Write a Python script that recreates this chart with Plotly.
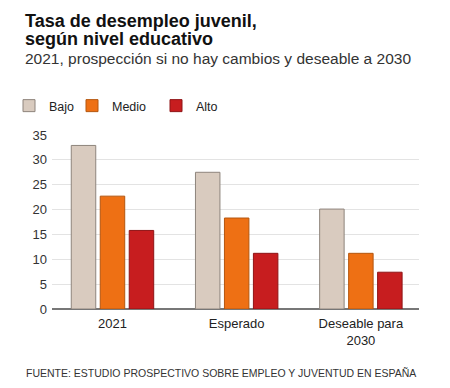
import plotly.graph_objects as go

# ---- data ----
categories = ["2021", "Esperado", "Deseable para<br>2030"]
series_names = ["Bajo", "Medio", "Alto"]
bajo = [32.9, 27.5, 20.1]
medio = [22.7, 18.3, 11.2]
alto = [15.8, 11.2, 7.4]
y_ticks = [0, 5, 10, 15, 20, 25, 30, 35]

title_line1 = "Tasa de desempleo juvenil,"
title_line2 = "según nivel educativo"
subtitle = "2021, prospección si no hay cambios y deseable a 2030"
source = "FUENTE: ESTUDIO PROSPECTIVO SOBRE EMPLEO Y JUVENTUD EN ESPAÑA"

# ---- layout geometry ----
W, H = 450, 388
ML, MR, MT, MB = 52, 31, 135, 79
PW, PH = W - ML - MR, H - MT - MB

def px2x(px):
    return (px - ML) / PW

def px2y(py):
    return (H - MB - py) / PH

fills = ["#d9cbbf", "#ee7014", "#c71d1f"]
edges = ["#8e847c", "#b4560f", "#8f1416"]
values = [bajo, medio, alto]
legend_ids = ["legend", "legend2", "legend3"]
legend_x_px = [9, 72, 156]

fig = go.Figure()
for name, vals, fc, ec, lg in zip(series_names, values, fills, edges, legend_ids):
    fig.add_trace(go.Bar(
        x=categories, y=vals, name=name, legend=lg,
        marker=dict(color=fc, line=dict(color=ec, width=1)),
        hoverinfo="x+y+name",
    ))

FONT = "Liberation Sans, Arial, sans-serif"

annotations = [
    dict(text="<b>%s</b>" % title_line1, x=px2x(23), y=px2y(20.8), font=dict(size=18, color="#111111")),
    dict(text="<b>%s</b>" % title_line2, x=px2x(23), y=px2y(39.3), font=dict(size=18, color="#111111")),
    dict(text=subtitle, x=px2x(23), y=px2y(58.2), font=dict(size=15.5, color="#333333")),
    dict(text=source, x=px2x(24), y=px2y(372.5), font=dict(size=10.5, color="#333333")),
]
for a in annotations:
    a.update(xref="paper", yref="paper", xanchor="left", yanchor="middle", showarrow=False)

legend_common = dict(
    orientation="h", y=px2y(106), xanchor="left", yanchor="middle",
    font=dict(size=12.5, color="#222222"), bgcolor="rgba(0,0,0,0)",
)
legends = {}
for lg, lx in zip(legend_ids, legend_x_px):
    legends[lg] = dict(legend_common, x=px2x(lx))

fig.update_layout(
    width=W, height=H,
    margin=dict(l=ML, r=MR, t=MT, b=MB, pad=0, autoexpand=False),
    paper_bgcolor="white", plot_bgcolor="white",
    font=dict(family=FONT, color="#222222"),
    barmode="group", bargap=0.30, bargroupgap=0.155,
    showlegend=True,
    annotations=annotations,
    xaxis=dict(
        range=[-0.487, 2.468],
        showgrid=False, showline=False, ticks="", ticklabelstandoff=5,
        tickfont=dict(size=13, color="#222222"),
        fixedrange=True,
    ),
    yaxis=dict(
        range=[0, 35], tickvals=y_ticks,
        showgrid=True, gridcolor="#e3e3e3", gridwidth=1,
        zeroline=True, zerolinecolor="#777777", zerolinewidth=1.5,
        showline=False, ticks="", ticklabelstandoff=4,
        tickfont=dict(size=13, color="#333333"),
        fixedrange=True,
    ),
    **legends,
)

fig.write_html(
    "out.html",
    config={"displayModeBar": False},
    post_script="document.body.style.margin='0';document.body.style.padding='0';",
)
